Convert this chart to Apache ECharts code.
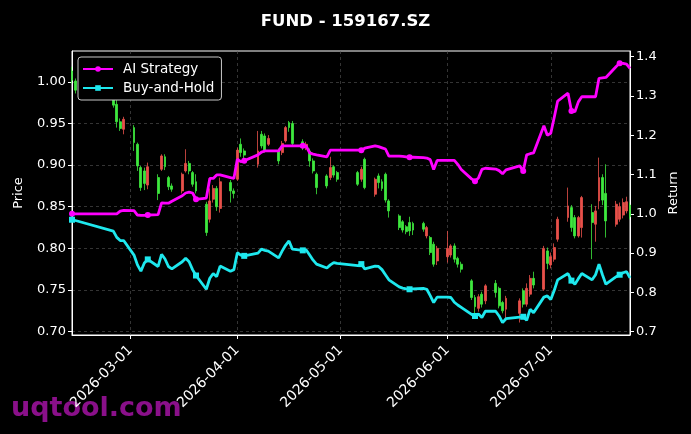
<!DOCTYPE html>
<html>
<head>
<meta charset="utf-8">
<title>FUND - 159167.SZ</title>
<script src="https://cdn.jsdelivr.net/npm/echarts@6.0.0/dist/echarts.min.js"></script>
<style>
    html, body { margin: 0; padding: 0; background: #000; }
    #chart { width: 691px; height: 434px; }
</style>
</head>
<body>
<div id="chart"></div>
<script>
//가격/수익률 차트
var dates = [
    '2026-02-12', '2026-02-13', '2026-02-24', '2026-02-25', '2026-02-26', '2026-02-27',
    '2026-03-02', '2026-03-03', '2026-03-04', '2026-03-05', '2026-03-06',
    '2026-03-09', '2026-03-10', '2026-03-11', '2026-03-12', '2026-03-13',
    '2026-03-16', '2026-03-17', '2026-03-18', '2026-03-19', '2026-03-20',
    '2026-03-23', '2026-03-24', '2026-03-25', '2026-03-26', '2026-03-27',
    '2026-03-30', '2026-03-31', '2026-04-01', '2026-04-02', '2026-04-03',
    '2026-04-07', '2026-04-08', '2026-04-09', '2026-04-10',
    '2026-04-13', '2026-04-14', '2026-04-15', '2026-04-16', '2026-04-17',
    '2026-04-20', '2026-04-21', '2026-04-22', '2026-04-23', '2026-04-24',
    '2026-04-27', '2026-04-28', '2026-04-29', '2026-04-30',
    '2026-05-06', '2026-05-07', '2026-05-08',
    '2026-05-11', '2026-05-12', '2026-05-13', '2026-05-14', '2026-05-15',
    '2026-05-18', '2026-05-19', '2026-05-20', '2026-05-21', '2026-05-22',
    '2026-05-25', '2026-05-26', '2026-05-27', '2026-05-28', '2026-05-29',
    '2026-06-01', '2026-06-02', '2026-06-03', '2026-06-04', '2026-06-05',
    '2026-06-08', '2026-06-09', '2026-06-10', '2026-06-11', '2026-06-12',
    '2026-06-15', '2026-06-16', '2026-06-17', '2026-06-18',
    '2026-06-22', '2026-06-23', '2026-06-24', '2026-06-25', '2026-06-26',
    '2026-06-29', '2026-06-30', '2026-07-01', '2026-07-02', '2026-07-03',
    '2026-07-06', '2026-07-07', '2026-07-08', '2026-07-09', '2026-07-10',
    '2026-07-13', '2026-07-14', '2026-07-15', '2026-07-16', '2026-07-17',
    '2026-07-20', '2026-07-21', '2026-07-22', '2026-07-23', '2026-07-24'
];

var openPrice = [
    1.013, 1.001, 1.003, 0.973, 0.952, 0.943,
    0.945, 0.925, 0.897, 0.893, 0.876,
    0.885, 0.895, 0.910, 0.885, 0.875,
    0.869, 0.893, 0.902, 0.891, 0.880,
    0.853, 0.835, 0.859, 0.872, 0.848,
    0.879, 0.869, 0.883, 0.925, 0.917,
    0.901, 0.937, 0.935, 0.925,
    0.917, 0.915, 0.929, 0.951, 0.950,
    0.928, 0.922, 0.917, 0.905, 0.889,
    0.887, 0.885, 0.898, 0.891,
    0.891, 0.883, 0.907,
    0.865, 0.887, 0.880, 0.889, 0.857,
    0.839, 0.832, 0.826, 0.831, 0.830,
    0.830, 0.815, 0.813, 0.805, 0.785,
    0.790, 0.792, 0.803, 0.788, 0.781,
    0.761, 0.741, 0.728, 0.745, 0.737,
    0.758, 0.752, 0.735, 0.727,
    0.722, 0.749, 0.733, 0.745, 0.764,
    0.751, 0.797, 0.780, 0.787, 0.811,
    0.837, 0.849, 0.837, 0.815, 0.825,
    0.843, 0.829, 0.857, 0.885, 0.866,
    0.829, 0.835, 0.840, 0.845, 0.852
];

var closePrice = [
    1.002, 0.990, 0.972, 0.952, 0.944, 0.955,
    0.927, 0.899, 0.873, 0.878, 0.898,
    0.866, 0.911, 0.898, 0.874, 0.871,
    0.889, 0.902, 0.893, 0.877, 0.869,
    0.819, 0.857, 0.872, 0.850, 0.880,
    0.869, 0.866, 0.918, 0.915, 0.912,
    0.917, 0.923, 0.918, 0.932,
    0.905, 0.926, 0.945, 0.945, 0.926,
    0.922, 0.925, 0.905, 0.893, 0.873,
    0.875, 0.897, 0.888, 0.883,
    0.877, 0.895, 0.873,
    0.883, 0.879, 0.872, 0.858, 0.845,
    0.825, 0.822, 0.820, 0.821, 0.822,
    0.823, 0.825, 0.795, 0.781, 0.800,
    0.800, 0.803, 0.787, 0.781, 0.775,
    0.741, 0.730, 0.742, 0.733, 0.755,
    0.747, 0.731, 0.725, 0.740,
    0.737, 0.733, 0.752, 0.764, 0.756,
    0.800, 0.782, 0.790, 0.801, 0.835,
    0.851, 0.825, 0.815, 0.837, 0.861,
    0.831, 0.845, 0.885, 0.858, 0.833,
    0.853, 0.850, 0.855, 0.856, 0.838
];

var lowPrice = [
    0.998, 0.986, 0.969, 0.945, 0.941, 0.937,
    0.917, 0.893, 0.869, 0.870, 0.871,
    0.858, 0.893, 0.894, 0.870, 0.868,
    0.866, 0.891, 0.889, 0.874, 0.866,
    0.815, 0.831, 0.855, 0.845, 0.843,
    0.855, 0.860, 0.881, 0.910, 0.908,
    0.897, 0.920, 0.915, 0.923,
    0.901, 0.912, 0.927, 0.940, 0.924,
    0.918, 0.918, 0.898, 0.890, 0.865,
    0.872, 0.882, 0.885, 0.880,
    0.875, 0.880, 0.871,
    0.862, 0.872, 0.869, 0.855, 0.837,
    0.822, 0.819, 0.817, 0.815, 0.816,
    0.820, 0.812, 0.792, 0.778, 0.780,
    0.783, 0.789, 0.783, 0.777, 0.771,
    0.738, 0.722, 0.724, 0.729, 0.733,
    0.741, 0.728, 0.722, 0.716,
    0.711, 0.729, 0.730, 0.742, 0.752,
    0.749, 0.775, 0.776, 0.784, 0.808,
    0.832, 0.820, 0.812, 0.813, 0.813,
    0.787, 0.808, 0.847, 0.852, 0.813,
    0.826, 0.832, 0.836, 0.842, 0.835
];

var highPrice = [
    1.018, 1.004, 1.008, 0.978, 0.956, 0.958,
    0.948, 0.927, 0.899, 0.897, 0.903,
    0.889, 0.913, 0.913, 0.887, 0.878,
    0.891, 0.919, 0.905, 0.893, 0.889,
    0.856, 0.872, 0.876, 0.875, 0.885,
    0.882, 0.872, 0.921, 0.932, 0.920,
    0.941, 0.941, 0.938, 0.936,
    0.920, 0.929, 0.947, 0.953, 0.953,
    0.931, 0.928, 0.920, 0.908, 0.891,
    0.889, 0.910, 0.900, 0.893,
    0.893, 0.898, 0.909,
    0.885, 0.890, 0.883, 0.891, 0.859,
    0.841, 0.834, 0.828, 0.838, 0.832,
    0.832, 0.827, 0.815, 0.808, 0.803,
    0.821, 0.805, 0.806, 0.790, 0.784,
    0.763, 0.744, 0.745, 0.748, 0.757,
    0.762, 0.754, 0.737, 0.743,
    0.740, 0.752, 0.758, 0.768, 0.772,
    0.803, 0.801, 0.795, 0.806, 0.838,
    0.873, 0.852, 0.840, 0.839, 0.863,
    0.853, 0.851, 0.909, 0.889, 0.901,
    0.857, 0.855, 0.860, 0.862, 0.855
];

var aiStrategy = [
    1.000, 1.000, 1.000, 1.000, 1.007, 1.009,
    1.008, 0.997, 0.996, 0.996, 0.997,
    0.998, 1.028, 1.027, 1.027, 1.032,
    1.046, 1.053, 1.055, 1.053, 1.037,
    1.040, 1.090, 1.090, 1.099, 1.099,
    1.092, 1.090, 1.139, 1.133, 1.135,
    1.150, 1.157, 1.160, 1.160,
    1.160, 1.173, 1.173, 1.173, 1.173,
    1.173, 1.172, 1.155, 1.152, 1.150,
    1.145, 1.162, 1.162, 1.162,
    1.162, 1.162, 1.167,
    1.173, 1.171, 1.168, 1.165, 1.147,
    1.147, 1.146, 1.145, 1.144, 1.144,
    1.143, 1.142, 1.138, 1.113, 1.136,
    1.136, 1.136, 1.136, 1.126, 1.113,
    1.089, 1.083, 1.091, 1.113, 1.116,
    1.114, 1.110, 1.102, 1.112,
    1.122, 1.109, 1.150, 1.153, 1.155,
    1.224, 1.200, 1.205, 1.245, 1.287,
    1.307, 1.262, 1.260, 1.285, 1.298,
    1.298, 1.298, 1.345, 1.346, 1.347,
    1.375, 1.383, 1.383, 1.381, 1.370
];

var buyHold = [
    0.985, 0.983, 0.956, 0.940, 0.932, 0.932,
    0.895, 0.870, 0.854, 0.875, 0.884,
    0.866, 0.897, 0.885, 0.866, 0.860,
    0.878, 0.887, 0.878, 0.858, 0.843,
    0.808, 0.836, 0.848, 0.840, 0.867,
    0.854, 0.858, 0.901, 0.895, 0.893,
    0.900, 0.910, 0.907, 0.905,
    0.888, 0.905, 0.920, 0.931, 0.910,
    0.907, 0.908, 0.895, 0.882, 0.872,
    0.862, 0.870, 0.876, 0.874,
    0.868, 0.872, 0.860,
    0.867, 0.866, 0.858, 0.845, 0.832,
    0.814, 0.811, 0.809, 0.808, 0.809,
    0.810, 0.808, 0.792, 0.774, 0.788,
    0.788, 0.787, 0.775, 0.768, 0.762,
    0.744, 0.740, 0.745, 0.736, 0.752,
    0.752, 0.740, 0.723, 0.733,
    0.737, 0.738, 0.729, 0.757, 0.748,
    0.788, 0.791, 0.782, 0.805, 0.832,
    0.848, 0.830, 0.821, 0.835, 0.848,
    0.832, 0.845, 0.872, 0.845, 0.821,
    0.840, 0.845, 0.850, 0.853, 0.837
];

// 마커 찍히는 날짜
var markDates = [
    '2026-02-12', '2026-03-06', '2026-03-20', '2026-04-03', '2026-04-20', '2026-05-07',
    '2026-05-21', '2026-06-09', '2026-06-23', '2026-07-07', '2026-07-21'
];

var monthTicks = ['2026-03-01', '2026-04-01', '2026-05-01', '2026-06-01', '2026-07-01'];
var priceTicks = [0.70, 0.75, 0.80, 0.85, 0.90, 0.95, 1.00];
var returnTicks = [0.7, 0.8, 0.9, 1.0, 1.1, 1.2, 1.3, 1.4];

(function() {
    var chart = echarts.init(document.getElementById('chart'));
    if (chart == null) return;

    var font = 'DejaVu Sans';

    // x축은 value 축(UTC 타임스탬프)로 처리
    function ts(d) { return Date.parse(d); }
    function pad(n) { return n < 10 ? '0' + n : '' + n; }

    var candles = dates.map(function(d, i) {
        return [ts(d), openPrice[i], closePrice[i], lowPrice[i], highPrice[i]];
    });
    var aiData = dates.map(function(d, i) { return [ts(d), aiStrategy[i]]; });
    var bhData = dates.map(function(d, i) { return [ts(d), buyHold[i]]; });
    var monthTs = monthTicks.map(ts);

    function markSize(size) {
        return function(val, params) {
            return markDates.indexOf(dates[params.dataIndex]) >= 0 ? size : 0;
        };
    }

    var option = {
        backgroundColor : '#000',
        animation : false,
        title : {
            text : 'FUND - 159167.SZ',
            left : 'center',
            top : 8,
            textStyle : {
                color : '#fff',
                fontFamily : font,
                fontWeight : 'bold',
                fontSize : 16.5
            }
        },
        legend : {
            orient : 'vertical',
            left : 78,
            top : 57,
            padding : [5, 7, 5, 4],
            itemGap : 5,
            itemWidth : 30,
            itemHeight : 7,
            backgroundColor : '#000',
            borderColor : '#c8c8c8',
            borderWidth : 1,
            borderRadius : 3,
            textStyle : {
                color : '#fff',
                fontFamily : font,
                fontSize : 13.5,
                padding : [0, 0, 0, 5]
            },
            data : ['AI Strategy', 'Buy-and-Hold']
        },
        grid : {
            left : 72,
            right : 61,
            top : 51,
            bottom : 99,
            show : true,
            borderColor : '#fff',
            borderWidth : 1
        },
        xAxis : {
            type : 'value',
            min : ts(dates[0]),
            max : ts(dates[dates.length - 1]),
            scale : true,
            axisLine : { lineStyle : { color : '#fff', width : 1 } },
            axisTick : {
                customValues : monthTs,
                length : 4,
                lineStyle : { color : '#fff' }
            },
            axisLabel : {
                customValues : monthTs,
                rotate : 45,
                color : '#fff',
                fontFamily : font,
                fontSize : 14,
                margin : 13,
                formatter : function(v) {
                    var d = new Date(v);
                    return d.getUTCFullYear() + '-' + pad(d.getUTCMonth() + 1) + '-' + pad(d.getUTCDate());
                }
            },
            splitLine : {
                show : true,
                lineStyle : { color : '#585858', type : [3, 3], width : 0.6 }
            }
        },
        yAxis : [{
            type : 'value',
            position : 'left',
            min : 0.696,
            max : 1.037,
            name : 'Price',
            nameLocation : 'middle',
            nameGap : 47,
            nameTextStyle : { color : '#fff', fontFamily : font, fontSize : 13 },
            axisLine : { show : true, lineStyle : { color : '#fff' } },
            axisTick : {
                show : true,
                customValues : priceTicks,
                length : 4,
                lineStyle : { color : '#fff' }
            },
            axisLabel : {
                customValues : priceTicks,
                color : '#fff',
                fontFamily : font,
                fontSize : 13,
                margin : 6,
                formatter : function(v) { return v.toFixed(2); }
            },
            splitLine : {
                show : true,
                lineStyle : { color : '#585858', type : [3, 3], width : 0.6 }
            }
        }, {
            type : 'value',
            position : 'right',
            min : 0.6916,
            max : 1.4144,
            name : 'Return',
            nameLocation : 'middle',
            nameGap : 37,
            nameTextStyle : { color : '#fff', fontFamily : font, fontSize : 13 },
            axisLine : { show : true, lineStyle : { color : '#fff' } },
            axisTick : {
                show : true,
                customValues : returnTicks,
                length : 4,
                lineStyle : { color : '#fff' }
            },
            axisLabel : {
                customValues : returnTicks,
                color : '#fff',
                fontFamily : font,
                fontSize : 13,
                margin : 6,
                formatter : function(v) { return v.toFixed(1); }
            },
            splitLine : { show : false }
        }],
        graphic : [{
            type : 'text',
            left : 11,
            top : 395,
            z : -1,
            style : {
                text : 'uqtool.com',
                fill : '#8a108a',
                font : 'bold 27px "DejaVu Sans"'
            }
        }],
        series : [{
            name : 'Price',
            type : 'candlestick',
            yAxisIndex : 0,
            barWidth : 2.4,
            itemStyle : {
                color : '#e8504a',
                color0 : '#3ee83e',
                borderColor : '#e8504a',
                borderColor0 : '#3ee83e',
                borderWidth : 0.8
            },
            data : candles
        }, {
            name : 'AI Strategy',
            type : 'line',
            yAxisIndex : 1,
            symbol : 'circle',
            symbolSize : markSize(6),
            showAllSymbol : true,
            color : '#ff00ff',
            lineStyle : { width : 2.8, color : '#ff00ff' },
            itemStyle : { color : '#ff00ff' },
            z : 3,
            data : aiData
        }, {
            name : 'Buy-and-Hold',
            type : 'line',
            yAxisIndex : 1,
            symbol : 'rect',
            symbolSize : markSize(6),
            showAllSymbol : true,
            color : '#1ee8ee',
            lineStyle : { width : 2.8, color : '#1ee8ee' },
            itemStyle : { color : '#1ee8ee' },
            z : 3,
            data : bhData
        }]
    };
    chart.setOption(option);

    window.addEventListener('resize', function() {
        chart.resize()
    })
})();
</script>
</body>
</html>
